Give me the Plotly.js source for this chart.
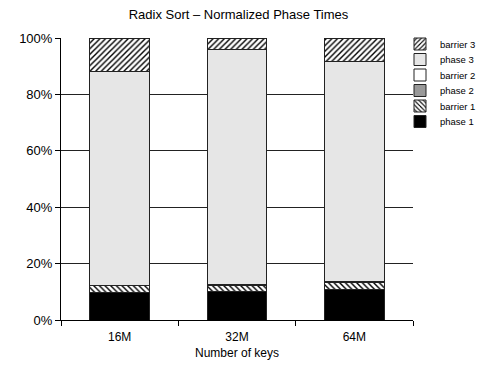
<!DOCTYPE html>
<html><head><meta charset="utf-8">
<script src="https://cdn.plot.ly/plotly-3.0.1.min.js"></script>
<style>html,body{margin:0;padding:0;background:#fff}#c{width:477px;height:369px}</style>
</head><body><div id="c"></div>
<script>
var categories = ['16M', '32M', '64M'];
var phase1   = [9.7, 10.0, 10.9];
var barrier1 = [2.4, 2.3, 2.4];
var phase2   = [0.1, 0.1, 0.1];
var barrier2 = [0.2, 0.1, 0.1];
var phase3   = [75.6, 83.4, 78.2];
var barrier3 = [12.0, 4.1, 8.3];
var yTicks = [0, 20, 40, 60, 80, 100];

function mk(name, y, color, legendId, pattern) {
  var m = {color: color, line: {color: '#222', width: 1}};
  if (pattern) m.pattern = {shape: pattern, fgcolor: '#000', bgcolor: '#fff', size: 4, solidity: 0.35};
  return {type: 'bar', name: name, x: categories, y: y, marker: m, legend: legendId};
}
var data = [
  mk('phase 1', phase1, '#000', 'legend6'),
  mk('barrier 1', barrier1, '#fff', 'legend5', '\\'),
  mk('phase 2', phase2, '#999', 'legend4'),
  mk('barrier 2', barrier2, '#fff', 'legend3'),
  mk('phase 3', phase3, '#e6e6e6', 'legend2'),
  mk('barrier 3', barrier3, '#fff', 'legend', '/')
];
var plotTop = 38, plotBot = 320;
function leg(px) {
  return {x: (400 - 61) / 352, xanchor: 'left', y: (plotBot - px) / (plotBot - plotTop), yanchor: 'middle',
          font: {size: 9.5}, bgcolor: 'rgba(0,0,0,0)', borderwidth: 0, itemwidth: 30};
}
var layout = {
  width: 477, height: 369,
  margin: {l: 61, r: 64, t: 38, b: 49, autoexpand: false},
  barmode: 'stack', bargap: 0.49,
  paper_bgcolor: '#fff', plot_bgcolor: '#fff',
  font: {family: 'Liberation Sans, Arial, sans-serif', size: 12, color: '#000'},
  title: {text: 'Radix Sort – Normalized Phase Times', x: 0.5, xanchor: 'center', y: 0.96, yanchor: 'middle', font: {size: 13}},
  xaxis: {type: 'category', showline: true, linecolor: '#000', linewidth: 1,
          ticks: 'outside', tickson: 'boundaries', ticklen: 5, tickcolor: '#000', ticklabelstandoff: 6,
          showgrid: false, title: {text: 'Number of keys', font: {size: 12}, standoff: 5}},
  yaxis: {range: [0, 100], tickvals: yTicks, ticktext: yTicks.map(function(v){return v + '%';}),
          showline: true, linecolor: '#000', linewidth: 1, ticks: 'outside', ticklen: 5, tickcolor: '#000',
          showgrid: true, gridcolor: '#222', gridwidth: 1, zeroline: false, tickfont: {size: 13}},
  legend: leg(44), legend2: leg(59.5), legend3: leg(75), legend4: leg(90.5), legend5: leg(106), legend6: leg(121.5),
  showlegend: true
};
Plotly.newPlot('c', data, layout, {displayModeBar: false, staticPlot: true});
</script></body></html>
